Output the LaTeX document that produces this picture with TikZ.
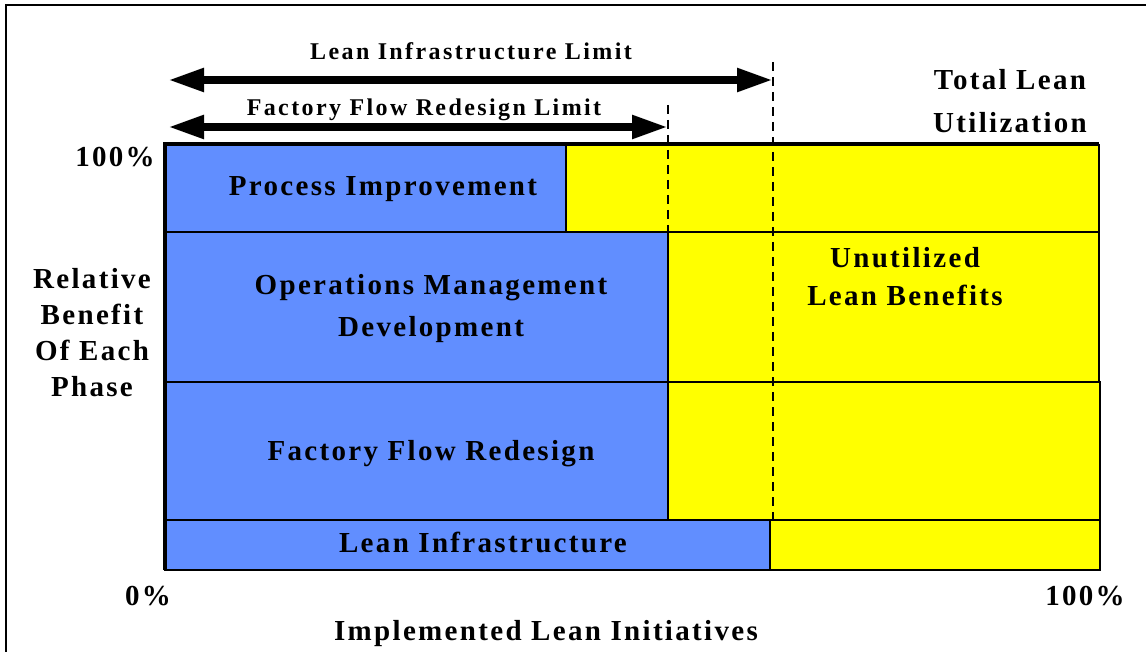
\documentclass[tikz,border=0pt]{standalone}
\usepackage{fontspec}
\setmainfont{Liberation Serif}[LetterSpace=10]
\newfontfamily\bigfont{Liberation Serif}[LetterSpace=8]
\usetikzlibrary{arrows.meta}
\definecolor{leanblue}{RGB}{97,142,255}
\definecolor{leanyellow}{RGB}{255,255,0}
\tikzset{
  bluebox/.style={fill=leanblue, draw=black, line width=2pt},
  yellowbox/.style={fill=leanyellow, draw=black, line width=2pt},
  bigtxt/.style={font=\bigfont\fontsize{29}{36}\selectfont\bfseries, inner sep=0pt, anchor=base, align=center},
  smalltxt/.style={font=\fontsize{24}{30}\selectfont\bfseries, inner sep=0pt, anchor=base},
  limitarrow/.style={line width=8pt, {Triangle[length=36pt,width=22pt]}-{Triangle[length=36pt,width=22pt]}},
  limitline/.style={line width=2pt, dash pattern=on 9pt off 6pt},
  frameline/.style={line width=2.5pt},
}
\begin{document}
\begin{tikzpicture}[x=1pt,y=-1pt]
\useasboundingbox (0,0) rectangle (1146,652);
% frame
\coordinate (fbl) at (6,660);
\coordinate (ftl) at (6,5);
\coordinate (ftr) at (1150,5);
\draw[frameline] (fbl) -- (ftl) -- (ftr);
% rows
\draw[yellowbox] (566,145) rectangle (1099,232);
\draw[bluebox] (165,145) rectangle (566,232);
\draw[yellowbox] (668,232) rectangle (1099,382);
\draw[bluebox] (165,232) rectangle (668,382);
\draw[yellowbox] (668,382) rectangle (1100,520);
\draw[bluebox] (165,382) rectangle (668,520);
\draw[yellowbox] (770,520) rectangle (1100,570);
\draw[bluebox] (165,520) rectangle (770,570);
\draw[line width=4pt] (165,570) -- (165,144) -- (1099,144);
% dashed limits
\coordinate (ffTop) at (668,105);
\coordinate (ffBot) at (668,520);
\coordinate (liTop) at (773,62);
\coordinate (liBot) at (773,522);
\draw[limitline] (ffTop) -- (ffBot);
\draw[limitline] (liTop) -- (liBot);
% arrows
\coordinate (liL) at (168,80);
\coordinate (liR) at (773,80);
\coordinate (ffL) at (168,127);
\coordinate (ffR) at (668,127);
\draw[limitarrow] (liL) -- (liR);
\draw[limitarrow] (ffL) -- (ffR);
\node[smalltxt] (liLabel) at (471,60) {Lean Infrastructure Limit};
\node[smalltxt] (ffLabel) at (424,116) {Factory Flow Redesign Limit};
% labels
\node[bigtxt] (total) at (1010,133) {Total Lean\\[7pt]Utilization};
\node[bigtxt] (top100) at (115,167) {100\%};
\node[bigtxt] (yaxis) at (92,396) {Relative\\Benefit\\Of Each\\Phase};
\node[bigtxt] (pi) at (383,196) {Process Improvement};
\node[bigtxt] (om) at (431,337) {Operations Management\\[7pt]Development};
\node[bigtxt] (unut) at (905,306) {Unutilized\\[3pt]Lean Benefits};
\node[bigtxt] (ff) at (431,460) {Factory Flow Redesign};
\node[bigtxt] (li) at (483,552) {Lean Infrastructure};
\node[bigtxt] (zero) at (148,605) {0\%};
\node[bigtxt] (right100) at (1085,605) {100\%};
\node[bigtxt] (xaxis) at (546,640) {Implemented Lean Initiatives};
\end{tikzpicture}
\end{document}
